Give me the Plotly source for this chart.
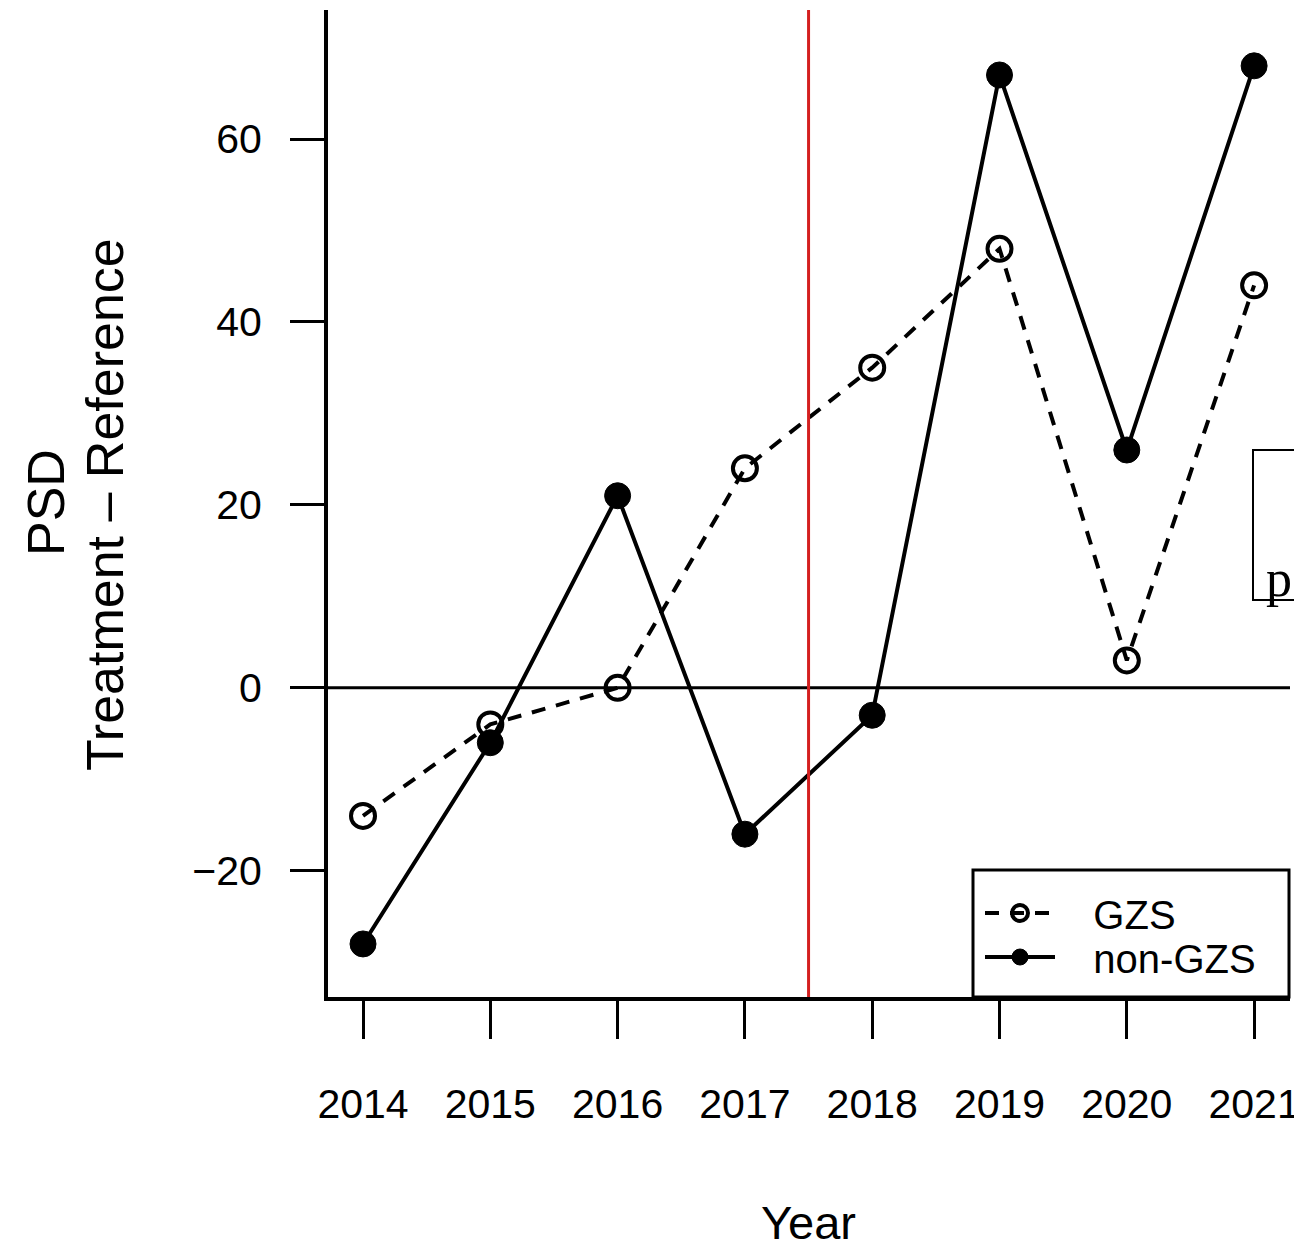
import plotly.graph_objects as go

years = [2014, 2015, 2016, 2017, 2018, 2019, 2020, 2021]
gzs = [-14, -4, 0, 24, 35, 48, 3, 44]
non_gzs = [-28, -6, 21, -16, -3, 67, 26, 68]
y_ticks = [-20, 0, 20, 40, 60]
treatment_break = 2017.5

W, H = 1294, 1249
ML, MR, MT, MB = 328, 4, 10, 252
FONT = "Arial, Liberation Sans, sans-serif"

fig = go.Figure()
fig.add_trace(go.Scatter(
    x=years, y=gzs, name="\u00a0\u00a0\u00a0GZS", mode="lines+markers", legend="legend",
    line=dict(color="black", width=4, dash="14px,11px"),
    marker=dict(symbol="circle-open", size=24, color="black", line=dict(width=4, color="black")),
))
fig.add_trace(go.Scatter(
    x=years, y=non_gzs, name="\u00a0\u00a0\u00a0non-GZS", mode="lines+markers", legend="legend2",
    line=dict(color="black", width=4),
    marker=dict(symbol="circle", size=26, color="black", line=dict(width=1, color="black")),
))

pw = W - ML - MR
ph = H - MT - MB

def px_x(p):
    return (p - ML) / pw

def px_y(p):
    return (H - MB - p) / ph

shapes = [
    dict(type="line", xref="paper", yref="y", x0=0, x1=1, y0=0, y1=0,
         line=dict(color="black", width=3)),
    dict(type="line", xref="x", yref="paper", x0=treatment_break, x1=treatment_break, y0=0, y1=1,
         line=dict(color="#d42020", width=3)),
    dict(type="rect", xref="paper", yref="paper", x0=px_x(973), x1=px_x(1289), y0=0, y1=px_y(870),
         line=dict(color="black", width=3), fillcolor="white", layer="below"),
    dict(type="rect", xref="paper", yref="paper", x0=px_x(1253), x1=px_x(1320), y0=px_y(600), y1=px_y(450),
         line=dict(color="black", width=2), fillcolor="white", layer="above"),
]

annotations = [
    dict(text="Year", xref="paper", yref="paper", x=px_x(808), y=px_y(1222),
         showarrow=False, font=dict(family=FONT, size=47, color="black"),
         xanchor="center", yanchor="middle"),
    dict(text="PSD", xref="paper", yref="paper", x=px_x(46), y=px_y(503),
         showarrow=False, textangle=-90, font=dict(family=FONT, size=52, color="black"),
         xanchor="center", yanchor="middle"),
    dict(text="Treatment \u2013 Reference", xref="paper", yref="paper", x=px_x(105), y=px_y(505),
         showarrow=False, textangle=-90, font=dict(family=FONT, size=52, color="black"),
         xanchor="center", yanchor="middle"),
    dict(text="p", xref="paper", yref="paper", x=px_x(1264), y=px_y(578),
         showarrow=False, font=dict(family="Liberation Serif, Times New Roman, serif", size=52, color="black"),
         xanchor="left", yanchor="middle"),
]

leg_common = dict(xanchor="left", yanchor="middle", bgcolor="rgba(0,0,0,0)", borderwidth=0,
                  font=dict(family=FONT, size=40, color="black"), itemwidth=70)

fig.update_layout(
    width=W, height=H, autosize=False,
    margin=dict(l=ML, r=MR, t=MT, b=MB, autoexpand=False),
    paper_bgcolor="white", plot_bgcolor="white",
    font=dict(family=FONT, color="black"),
    shapes=shapes, annotations=annotations,
    showlegend=True,
    legend=dict(x=px_x(980), y=px_y(913), **leg_common),
    legend2=dict(x=px_x(980), y=px_y(957), **leg_common),
)

fig.update_xaxes(
    range=[2013.725, 2013.725 + pw / 127.3], tickvals=years, ticktext=[str(y) for y in years],
    showgrid=False, zeroline=False, showline=True, linecolor="black", linewidth=4,
    ticks="outside", ticklen=38, tickwidth=3, tickcolor="black", ticklabeloverflow="allow",
    tickfont=dict(family=FONT, size=41, color="black"), ticklabelstandoff=30,
)
fig.update_yaxes(
    range=[-33.8, -33.8 + ph / 9.147], tickvals=y_ticks,
    showgrid=False, zeroline=False, showline=True, linecolor="black", linewidth=4,
    ticks="outside", ticklen=34, tickwidth=3, tickcolor="black",
    tickfont=dict(family=FONT, size=41, color="black"), ticklabelstandoff=20,
)

fig.write_html(
    "out.html",
    config=dict(displayModeBar=False, responsive=False),
    post_script="document.body.style.margin='0';document.body.style.overflow='hidden';",
)
